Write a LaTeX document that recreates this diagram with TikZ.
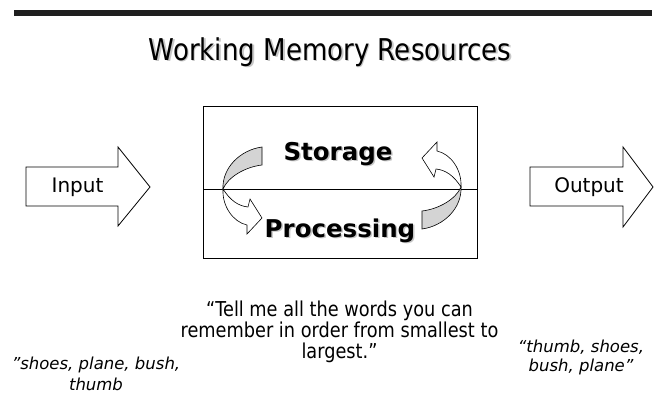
\documentclass[tikz,border=0pt]{standalone}
\usepackage{fontspec}
\setmainfont{DejaVu Sans}
\newfontfamily\narrowfont{DejaVu Sans}[FakeStretch=0.87]
\newfontfamily\instrfont{DejaVu Sans}[FakeStretch=0.865]
\begin{document}
\begin{tikzpicture}[x=1pt,y=-1pt,
  txt/.style={inner sep=0pt},
  blockarrow/.style={draw=black, line width=0.8pt, fill=white, line join=miter},
  backside/.style={draw=black, line width=0.6pt, fill=black!17},
  frontside/.style={draw=black, line width=0.6pt, fill=white},
  shadowtxt/.style={inner sep=0pt, text=black!22}]
\useasboundingbox (0,0) rectangle (657,413);
% top bar
\fill[black!88] (14,10) rectangle (652,16);
% title
\node[shadowtxt, font=\narrowfont\fontsize{30}{36}\selectfont, anchor=base] at (331.5,61.5) {Working Memory Resources};
\node[txt, font=\narrowfont\fontsize{30}{36}\selectfont, anchor=base] (title) at (330,60) {Working Memory Resources};
% central box
\draw[line width=1pt] (203,106) rectangle (477,258);
\coordinate (midL) at (203,189);
\coordinate (midR) at (477,189);
\draw[line width=1pt] (midL) -- (midR);
% storage / processing labels
\node[shadowtxt, font=\bfseries\fontsize{24.5}{29}\selectfont, anchor=base] at (339.5,161.5) {Storage};
\node[txt, font=\bfseries\fontsize{24.5}{29}\selectfont, anchor=base] (storage) at (338,160) {Storage};
\node[shadowtxt, font=\bfseries\fontsize{24.5}{29}\selectfont, anchor=base] at (341.5,238.5) {Processing};
\node[txt, font=\bfseries\fontsize{24.5}{29}\selectfont, anchor=base] (processing) at (340,237) {Processing};
% left curved arrow (storage -> processing)
\path[backside] (262,147) .. controls (240,150) and (222,168) .. (223,189)
  .. controls (228,177) and (245,167) .. (262,165) -- cycle;
\path[frontside] (223,189) .. controls (230,200) and (238,206) .. (248,207)
  -- (250,199) -- (262,218) -- (247,234) -- (247,225)
  .. controls (233,222) and (222,206) .. (223,189) -- cycle;
% right curved arrow (processing -> storage)
\begin{scope}[rotate around={180:(342,188)}]
\path[backside] (262,147) .. controls (240,150) and (222,168) .. (223,189)
  .. controls (228,177) and (245,167) .. (262,165) -- cycle;
\path[frontside] (223,189) .. controls (230,200) and (238,206) .. (248,207)
  -- (250,199) -- (262,218) -- (247,234) -- (247,225)
  .. controls (233,222) and (222,206) .. (223,189) -- cycle;
\end{scope}
% input block arrow
\path[blockarrow] (26,167) -- (118,167) -- (118,147) -- (150,187) -- (118,226) -- (118,206) -- (26,206) -- cycle;
\node[txt, font=\fontsize{20}{24}\selectfont] (input) at (77.5,187) {Input};
% output block arrow
\path[blockarrow] (530,167) -- (623,167) -- (623,147) -- (653,187) -- (623,227) -- (623,206) -- (530,206) -- cycle;
\node[txt, font=\fontsize{20}{24}\selectfont] (output) at (589,187) {Output};
% instruction
\node[txt, align=center, font=\instrfont\fontsize{20.5}{21}\selectfont] (instr) at (339.5,331.5)
  {“Tell me all the words you can\\remember in order from smallest to\\largest.”};
% word lists
\node[txt, align=center, font=\itshape\fontsize{16.5}{20.5}\selectfont] (inlist) at (96,374)
  {"shoes, plane, bush,\\thumb};
\node[txt, align=center, font=\itshape\fontsize{16.5}{19}\selectfont] (outlist) at (581,357)
  {“thumb, shoes,\\bush, plane”};
\end{tikzpicture}
\end{document}
